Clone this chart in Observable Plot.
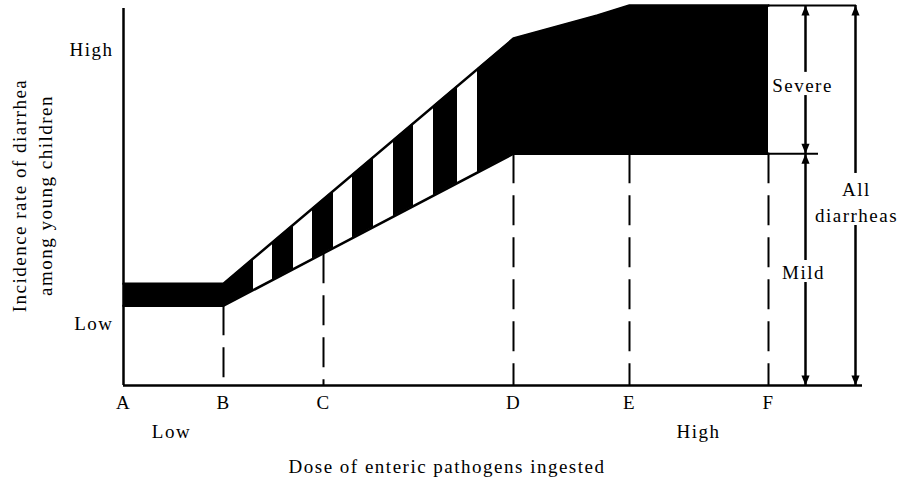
<!DOCTYPE html>
<html><head><meta charset="utf-8">
<script src="https://cdn.jsdelivr.net/npm/d3@7"></script>
<script src="https://cdn.jsdelivr.net/npm/@observablehq/plot@0.6"></script>
<style>
html,body{margin:0;padding:0;background:#fff;}
</style>
</head><body><div id="chart"></div>
<script>
// Tick labels and categories
const doseLabels = ["A", "B", "C", "D", "E", "F"];
const dosePositions = [0, 1, 2, 3.9, 5.06, 6.45];
const incidenceTicks = [16.3, 88.2];
const incidenceLabels = ["Low", "High"];
const doseLevelLabels = ["Low", "High"];
const doseLevelPositions = [0.48, 5.75];

// Curves (dose vs incidence rate)
const curveDose = [0, 1, 3.9, 4.74, 5.06, 6.45];
const mildRate = [21, 21, 61, 61, 61, 61];
const allRate = [26.8, 26.8, 91.3, 97.4, 100, 100];

// White stripes in the transition band
const stripeX1 = [1.30, 1.70, 2.10, 2.50, 2.90, 3.34];
const stripeX2 = [1.49, 1.89, 2.29, 2.70, 3.10, 3.54];
const stripeY1 = [24, 29, 35, 40, 46, 52];
const stripeY2 = [39, 48, 57, 66, 75, 85];

// Dashed guides
const guideDose = [1, 2, 3.9, 5.06, 6.45];
const guideRate = [21, 34.7, 61, 61, 61];

// Brackets on the right
const shaftX = [6.82, 6.82, 6.82, 6.82, 7.32, 7.32];
const shaftY1 = [82.4, 61, 61, 0, 55.8, 0];
const shaftY2 = [100, 76.3, 32.9, 27.1, 100, 42.1];
const headUpX = [6.82, 6.82, 7.32];
const headUpY = [100, 61, 100];
const headDownX = [6.82, 6.82, 7.32];
const headDownY = [61, 0, 0];
const refLineY = [100, 61];
const refLineX2 = [7.33, 6.95];
const annoText = ["Severe", "Mild", "All\ndiarrheas"];
const annoX = [6.79, 6.80, 7.33];
const annoY = [79.5, 30.3, 48.7];

const curves = curveDose.map((d, i) => ({dose: d, mild: mildRate[i], all: allRate[i]}));
const stripes = stripeX1.map((d, i) => ({x1: d, x2: stripeX2[i], y1: stripeY1[i], y2: stripeY2[i]}));
const guides = guideDose.map((d, i) => ({dose: d, rate: guideRate[i]}));
const shafts = shaftX.map((d, i) => ({x: d, y1: shaftY1[i], y2: shaftY2[i]}));
const headsUp = headUpX.map((d, i) => ({x: d, y: headUpY[i]}));
const headsDown = headDownX.map((d, i) => ({x: d, y: headDownY[i]}));
const refs = refLineY.map((d, i) => ({y: d, x1: 6.45, x2: refLineX2[i]}));
const annos = annoText.map((t, i) => ({text: t, x: annoX[i], y: annoY[i]}));

// Narrow arrowhead symbol with its tip at the anchor point, pointing up
const arrowHead = {
  draw(context, size) {
    const k = Math.sqrt(size / Math.PI);
    context.moveTo(0, 0);
    context.lineTo(1.1 * k, 2.7 * k);
    context.lineTo(-1.1 * k, 2.7 * k);
    context.closePath();
  }
};

const chart = Plot.plot({
  width: 906,
  height: 483,
  marginLeft: 123,
  marginRight: 44,
  marginTop: 5,
  marginBottom: 98,
  x: {domain: [0, 7.39]},
  y: {domain: [0, 100]},
  style: {
    fontFamily: "'Liberation Serif', 'Times New Roman', serif",
    fontSize: "19px",
    letterSpacing: "1.5px",
    background: "white",
    color: "black",
    overflow: "visible"
  },
  marks: [
    Plot.areaY(curves, {x: "dose", y1: "mild", y2: "all", fill: "black"}),
    Plot.rect(stripes, {x1: "x1", x2: "x2", y1: "y1", y2: "y2", fill: "white"}),
    Plot.line(curves, {x: "dose", y: "mild", stroke: "black", strokeWidth: 2.5}),
    Plot.line(curves, {x: "dose", y: "all", stroke: "black", strokeWidth: 2.5}),
    Plot.ruleX(guides, {x: "dose", y1: "rate", y2: 0, stroke: "black", strokeWidth: 2, strokeDasharray: "30,12"}),
    Plot.ruleX([0], {y1: 0, y2: 99.2, stroke: "black", strokeWidth: 2.5}),
    Plot.ruleY([0], {x1: 0, x2: 7.39, stroke: "black", strokeWidth: 2.5}),
    Plot.ruleY(refs, {y: "y", x1: "x1", x2: "x2", stroke: "black", strokeWidth: 2}),
    Plot.ruleX(shafts, {x: "x", y1: "y1", y2: "y2", stroke: "black", strokeWidth: 2.5}),
    Plot.dot(headsUp, {x: "x", y: "y", symbol: arrowHead, r: 3.7, fill: "black", stroke: null}),
    Plot.dot(headsDown, {x: "x", y: "y", symbol: arrowHead, r: 3.7, fill: "black", stroke: null, rotate: 180}),
    Plot.text(annos, {x: "x", y: "y", text: "text", lineHeight: 1.37, fill: "black"}),
    Plot.axisX(dosePositions, {
      tickFormat: d => doseLabels[dosePositions.indexOf(d)],
      tickSize: 0, tickPadding: 10, label: null, fill: "black"
    }),
    Plot.axisY(incidenceTicks, {
      tickFormat: d => incidenceLabels[incidenceTicks.indexOf(d)],
      tickSize: 0, tickPadding: 10, label: null, fill: "black"
    }),
    Plot.text(doseLevelLabels, {x: (d, i) => doseLevelPositions[i], text: d => d, frameAnchor: "bottom", dy: 52, fill: "black"}),
    Plot.text(["Dose of enteric pathogens ingested"], {frameAnchor: "bottom", dx: -46, dy: 87, fill: "black"}),
    Plot.text(["Incidence rate of diarrhea\namong young children"], {frameAnchor: "left", textAnchor: "middle", rotate: -90, dx: -93, lineHeight: 1.37, fill: "black"})
  ]
});
document.getElementById("chart").appendChild(chart);
</script>
</body></html>
